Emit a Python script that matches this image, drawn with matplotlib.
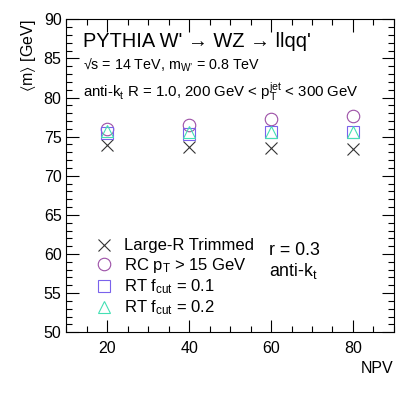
import numpy as np
import matplotlib
matplotlib.use("Agg")
from matplotlib import pyplot as plt
from matplotlib.ticker import MultipleLocator

plt.rcParams['font.family'] = ['Liberation Sans', 'DejaVu Sans']
plt.rcParams['mathtext.fontset'] = 'custom'
plt.rcParams['mathtext.rm'] = 'Liberation Sans'
plt.rcParams['mathtext.it'] = 'Liberation Sans'
plt.rcParams['mathtext.default'] = 'regular'

npv = [20, 40, 60, 80]
trimmed = [73.9, 73.7, 73.6, 73.4]
rc_pt15 = [76.0, 76.5, 77.2, 77.6]
rt_f01 = [75.5, 75.4, 75.6, 75.6]
rt_f02 = [75.7, 75.6, 75.6, 75.6]

labels = ['Large-R Trimmed', 'RC p$_{T}$ > 15 GeV',
          'RT f$_{cut}$ = 0.1', 'RT f$_{cut}$ = 0.2']

fig = plt.figure(figsize=(4.15, 3.95), dpi=100)
ax = fig.add_axes([0.160, 0.159, 0.789, 0.792])

ms = 9
ax.plot(npv, trimmed, ls='none', marker='x', ms=ms, mew=0.8, color='#333333', label=labels[0])
ax.plot(npv, rc_pt15, ls='none', marker='o', ms=ms, mew=0.8, mfc='none', color='#9c4fa6', label=labels[1])
ax.plot(npv, rt_f01, ls='none', marker='s', ms=ms, mew=0.8, mfc='none', color='#7a62ec', label=labels[2])
ax.plot(npv, rt_f02, ls='none', marker='^', ms=ms, mew=0.8, mfc='none', color='#44e0b4', label=labels[3])

ax.set_xlim(10, 90)
ax.set_ylim(50, 90)
ax.xaxis.set_major_locator(MultipleLocator(20))
ax.xaxis.set_minor_locator(MultipleLocator(5))
ax.yaxis.set_major_locator(MultipleLocator(5))
ax.yaxis.set_minor_locator(MultipleLocator(1))
ax.tick_params(which='both', direction='in', top=True, right=True, width=0.8, labelsize=11.5)
ax.tick_params(which='major', length=9)
ax.tick_params(which='minor', length=4.5)
ax.tick_params(axis='x', pad=6)
for s in ax.spines.values():
    s.set_linewidth(0.8)

ax.set_xlabel('NPV', fontsize=11.5, loc='right')
ax.set_ylabel(r'$\langle$m$\rangle$ [GeV]', fontsize=11.5, loc='top')

ax.text(0.052, 0.912, "PYTHIA W' → WZ → llqq'", transform=ax.transAxes, fontsize=14.4)
ax.text(0.052, 0.838, "√s = 14 TeV, m$_{W\u2019}$ = 0.8 TeV", transform=ax.transAxes, fontsize=10.3)
ax.text(0.052, 0.749, "anti-k$_{t}$ R = 1.0, 200 GeV < p$_{T}^{jet}$ < 300 GeV", transform=ax.transAxes, fontsize=10.8)

ax.text(0.62, 0.246, 'r = 0.3', transform=ax.transAxes, fontsize=12.8)
ax.text(0.62, 0.179, 'anti-k$_{t}$', transform=ax.transAxes, fontsize=12.8)

ax.legend(loc='upper left', bbox_to_anchor=(0.087, 0.30), frameon=False, fontsize=12,
          handlelength=1.1, handletextpad=0.65, labelspacing=0.15, borderpad=0,
          borderaxespad=0)

fig.savefig('out.png', dpi=100)
